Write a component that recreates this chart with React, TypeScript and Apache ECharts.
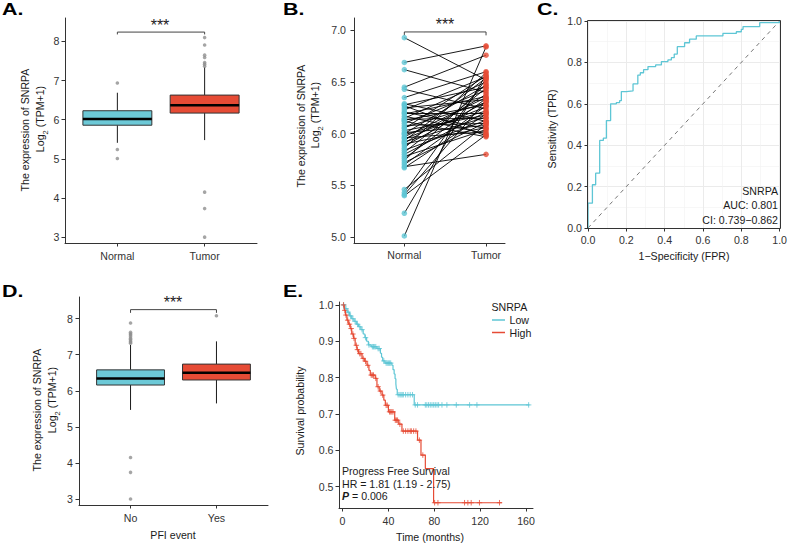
import React, { useEffect, useRef } from 'react';
import * as echarts from 'echarts';

// ---------- data ----------
const groupsAB = ['Normal', 'Tumor'];
const groupsD = ['No', 'Yes'];

// box statistics: [group position, lower whisker, Q1, median, Q3, upper whisker]
const boxA = [
  [1, 5.41, 5.86, 6.02, 6.23, 6.69],
  [2, 5.48, 6.17, 6.37, 6.63, 7.35],
];
const outliersNormalA = [6.94, 5.24, 5.01];
const outliersTumorA = [7.37, 7.42, 7.46, 7.59, 7.65, 7.91, 8.1, 4.15, 3.73, 3.0];

const boxD = [
  [1, 5.47, 6.16, 6.34, 6.58, 7.27],
  [2, 5.65, 6.3, 6.5, 6.74, 7.37],
];
const outliersNoD = [7.88, 7.62, 7.58, 7.55, 7.5, 7.45, 7.42, 7.38, 7.35, 7.32, 4.15, 3.74, 3.0];
const outliersYesD = [8.08];

// paired samples (normal vs tumor of the same patient)
const pairedNormal = [
  6.93, 6.69, 6.62, 6.45, 6.43, 6.35, 6.29, 6.28, 6.27, 6.25, 6.23, 6.21, 6.2, 6.19, 6.17, 6.15, 6.14, 6.13,
  6.12, 6.1, 6.08, 6.06, 6.05, 6.03, 6.01, 6.0, 5.99, 5.97, 5.96, 5.95, 5.93, 5.92, 5.91, 5.9, 5.88, 5.86,
  5.84, 5.82, 5.8, 5.78, 5.76, 5.74, 5.72, 5.7, 5.68, 5.67, 5.46, 5.43, 5.41, 5.4, 5.23, 5.01,
];
const pairedTumor = [
  6.52, 6.85, 6.4, 6.76, 6.24, 6.6, 6.12, 6.45, 5.98, 6.33, 6.55, 6.05, 6.2, 6.36, 6.0, 6.5, 6.15, 6.28,
  5.97, 6.42, 6.1, 6.3, 6.56, 6.18, 6.08, 6.47, 6.22, 6.35, 6.02, 6.26, 6.54, 6.16, 6.38, 6.06, 6.31, 6.59,
  6.13, 6.44, 6.21, 6.04, 6.34, 6.48, 6.11, 6.27, 5.8, 6.19, 6.09, 6.53, 6.32, 5.99, 6.57, 6.84,
];

// ROC curve vertices
const rocFpr = [0, 0, 0.023, 0.04, 0.061, 0.08, 0.096, 0.118, 0.148, 0.165, 0.174, 0.2, 0.235, 0.26, 0.273, 0.29,
  0.313, 0.353, 0.383, 0.417, 0.435, 0.45, 0.466, 0.504, 0.53, 0.565, 0.704, 0.774, 0.8, 0.809, 0.896, 1.0];
const rocTpr = [0, 0.12, 0.209, 0.265, 0.423, 0.434, 0.519, 0.6, 0.606, 0.615, 0.659, 0.662, 0.696, 0.739, 0.75, 0.765,
  0.78, 0.788, 0.804, 0.812, 0.823, 0.84, 0.876, 0.895, 0.912, 0.928, 0.94, 0.948, 0.96, 0.973, 0.992, 1.0];

// Kaplan-Meier steps
const lowTime = [0, 2, 4, 6, 8, 10, 12, 14, 16, 18, 19.5, 21, 22.5, 25, 30, 33, 34, 35, 37, 43, 44, 45, 45.8, 46.5, 47, 47.7, 62.5, 163];
const lowSurv = [1, 0.99, 0.98, 0.97, 0.962, 0.955, 0.947, 0.94, 0.932, 0.92, 0.91, 0.9, 0.89, 0.885, 0.88, 0.867, 0.856, 0.846, 0.84, 0.834, 0.822, 0.81, 0.797, 0.783, 0.768, 0.753, 0.725, 0.725];
const highTime = [0, 1.5, 2.5, 3.8, 5, 6.7, 8, 9.6, 11, 12.5, 14, 17, 19, 21.3, 23, 24.2, 28.5, 30, 32, 34.4, 36, 37.3, 40, 45.5, 49, 51.8, 65.4, 68.4, 72.2, 79.4, 139];
const highSurv = [1, 0.985, 0.972, 0.958, 0.947, 0.935, 0.92, 0.908, 0.889, 0.877, 0.866, 0.853, 0.845, 0.834, 0.82, 0.807, 0.798, 0.775, 0.763, 0.752, 0.738, 0.724, 0.706, 0.683, 0.672, 0.653, 0.628, 0.587, 0.55, 0.456, 0.456];
const lowCensor = [1, 3, 5, 7, 9, 11, 13, 15, 17, 20, 23, 26, 27, 28, 29, 31, 32, 36, 38, 39, 40, 41, 42, 48.5, 50, 51, 52, 53,
  55, 57, 59, 61, 63.4, 65.4, 72.2, 73.5, 75, 76.5, 78, 79.5, 80.9, 82.4, 83.8, 86.7, 91, 99.2, 110.8, 117.2, 162.3];
const highCensor = [0.8, 2, 3, 4.5, 6, 7.5, 9, 10, 12, 13, 15, 16, 18, 20, 22, 25, 26, 27, 29, 31, 33, 35, 38, 39, 41, 42, 43,
  44, 46, 47, 48, 50, 53, 55, 57, 59, 60, 62, 64, 67, 70, 80.3, 83.2, 106.4, 109.3, 112.2, 119.4, 136.9];

const yTicksA = [3, 4, 5, 6, 7, 8];
const yTicksB = [5, 5.5, 6, 6.5, 7];
const yTicksE = [0.5, 0.6, 0.7, 0.8, 0.9, 1.0];
const xTicksE = [0, 40, 80, 120, 160];

// ---------- styling ----------
const FONT = '"Liberation Sans", Arial, Helvetica, sans-serif';
const INK = '#333333';
const CYAN = '#6CC9D7';
const CYAN_LINE = '#5EC6D5';
const RED = '#E64B35';
const FS = 10.6;

const levelAt = (times: number[], surv: number[], t: number) => {
  let s = surv[0];
  for (let i = 0; i < times.length; i++) if (times[i] <= t) s = surv[i];
  return s;
};

const labelStyle = { color: INK, fontSize: FS, fontFamily: FONT };

function valueAxis(gridIndex: number, min: number, max: number, ticks: number[], fmt: (v: number) => string, margin: number) {
  return {
    type: 'value', gridIndex, min, max,
    axisLine: { show: true, onZero: false, lineStyle: { color: INK, width: 1 } },
    axisTick: { show: true, length: 3.5, customValues: ticks, lineStyle: { color: INK, width: 1 } },
    axisLabel: { ...labelStyle, customValues: ticks, margin, formatter: fmt },
    splitLine: { show: false },
  };
}

function rocAxis(gridIndex: number, margin: number) {
  return {
    type: 'value', gridIndex, min: 0, max: 1, interval: 0.2,
    axisLine: { show: false },
    axisTick: { show: true, length: 3.5, lineStyle: { color: INK, width: 1 } },
    axisLabel: { ...labelStyle, margin, formatter: (v: number) => v.toFixed(1) },
    splitLine: { show: true, lineStyle: { color: '#EBEBEB', width: 1 } },
    minorTick: { show: false, splitNumber: 2 },
    minorSplitLine: { show: true, lineStyle: { color: '#F2F2F2', width: 0.6 } },
  };
}

const boxColors = [CYAN, RED];
function boxSeries(idx: number, stats: number[][]) {
  return {
    type: 'custom', xAxisIndex: idx, yAxisIndex: idx, data: stats, silent: true, z: 2,
    encode: { x: 0, y: [1, 2, 3, 4, 5] },
    renderItem: (params: any, api: any) => {
      const x = api.value(0);
      const w = api.size([0.79, 0])[0];
      const lo = api.coord([x, api.value(1)]);
      const q1 = api.coord([x, api.value(2)]);
      const md = api.coord([x, api.value(3)]);
      const q3 = api.coord([x, api.value(4)]);
      const hi = api.coord([x, api.value(5)]);
      const wStyle = { stroke: '#1a1a1a', lineWidth: 1 };
      return {
        type: 'group',
        children: [
          { type: 'line', shape: { x1: lo[0], y1: lo[1], x2: q1[0], y2: q1[1] }, style: wStyle },
          { type: 'line', shape: { x1: q3[0], y1: q3[1], x2: hi[0], y2: hi[1] }, style: wStyle },
          { type: 'rect', shape: { x: q3[0] - w / 2, y: q3[1], width: w, height: q1[1] - q3[1] },
            style: { fill: boxColors[params.dataIndex], stroke: '#333', lineWidth: 1 } },
          { type: 'line', shape: { x1: md[0] - w / 2, y1: md[1], x2: md[0] + w / 2, y2: md[1] },
            style: { stroke: '#000', lineWidth: 2.5 } },
        ],
      };
    },
  };
}
function outlierSeries(idx: number, x: number, values: number[]) {
  return {
    type: 'scatter', xAxisIndex: idx, yAxisIndex: idx, silent: true, z: 3,
    data: values.map((v) => [x, v]), symbolSize: 3.6, itemStyle: { color: '#8F8F8F' },
  };
}
function bracketSeries(idx: number, yTop: number, yTip: number) {
  return {
    type: 'line', xAxisIndex: idx, yAxisIndex: idx, silent: true, symbol: 'none',
    data: [[1, yTip], [1, yTop], [2, yTop], [2, yTip]],
    lineStyle: { color: '#444', width: 1 },
  };
}

const PLUS = 'path://M0 4L8 4M4 0L4 8';

function kmSeries(times: number[], surv: number[], censor: number[], color: string) {
  return [
    {
      type: 'line', xAxisIndex: 4, yAxisIndex: 4, silent: true, step: 'end', symbol: 'none',
      data: times.map((t, i) => [t, surv[i]]), lineStyle: { color, width: 1.2 },
    },
    {
      type: 'scatter', xAxisIndex: 4, yAxisIndex: 4, silent: true, symbol: PLUS, symbolSize: 5.5,
      data: censor.map((t) => [t, levelAt(times, surv, t)]),
      itemStyle: { color: 'transparent', borderColor: color, borderWidth: 1 },
    },
  ];
}

// ---------- text helpers ----------
const txt = (x: number, y: number, text: string, extra: any = {}, el: any = {}) => ({
  type: 'text', x, y, silent: true, z: 50, ...el,
  style: { text, fill: '#1a1a1a', fontSize: FS, fontFamily: FONT, align: 'center', verticalAlign: 'middle', ...extra },
});
const vtxt = (x: number, y: number, text: string) => txt(x, y, text, {}, { rotation: Math.PI / 2 });
const logTitle = (x: number, y: number) => ({
  type: 'text', x, y, rotation: Math.PI / 2, silent: true, z: 50,
  style: {
    text: '{a|Log}{s|2}{a| (TPM+1)}', align: 'center', verticalAlign: 'middle', fill: '#1a1a1a',
    rich: {
      a: { fontSize: FS, fontFamily: FONT, lineHeight: 13, verticalAlign: 'top', fill: '#1a1a1a' },
      s: { fontSize: 7.5, fontFamily: FONT, lineHeight: 8, verticalAlign: 'top', padding: [6.5, 0, 0, 0], fill: '#1a1a1a' },
    },
  },
});
const letter = (x: number, y: number, text: string) => ({
  type: 'text', x, y, scaleX: 1.3, silent: true, z: 50,
  style: { text, fill: '#000', fontSize: 16.5, fontWeight: 'bold', fontFamily: FONT, align: 'left', verticalAlign: 'middle' },
});
const stars = (x: number, y: number) => txt(x, y, '***', { fontSize: 16, fill: '#222' });

const option: any = {
  animation: false,
  backgroundColor: '#ffffff',
  grid: [
    { left: 65, top: 18, width: 192, height: 225 },   // A
    { left: 354, top: 18, width: 151, height: 225 },  // B
    { left: 588, top: 21, width: 192, height: 207 },  // C
    { left: 79, top: 297, width: 189, height: 208 },  // D
    { left: 339, top: 302, width: 194, height: 206 }, // E
  ],
  xAxis: [
    valueAxis(0, 0.4, 2.6, [1, 2], (v) => groupsAB[Math.round(v) - 1], 7),
    valueAxis(1, 0.384, 2.232, [1, 2], (v) => groupsAB[Math.round(v) - 1], 6.5),
    rocAxis(2, 6),
    valueAxis(3, 0.4, 2.6, [1, 2], (v) => groupsD[Math.round(v) - 1], 7.5),
    valueAxis(4, -3.1, 166.1, xTicksE, (v) => String(v), 7.5),
  ],
  yAxis: [
    valueAxis(0, 2.85, 8.6, yTicksA, (v) => String(v), 5.5),
    valueAxis(1, 4.942, 7.12, yTicksB, (v) => v.toFixed(1), 8),
    rocAxis(2, 6),
    valueAxis(3, 2.834, 8.6, yTicksA, (v) => String(v), 6),
    valueAxis(4, 0.4415, 1.008, yTicksE, (v) => v.toFixed(1), 5.5),
  ],
  series: [
    // A
    boxSeries(0, boxA),
    outlierSeries(0, 1, outliersNormalA),
    outlierSeries(0, 2, outliersTumorA),
    bracketSeries(0, 8.24, 8.18),
    // B
    {
      type: 'lines', coordinateSystem: 'cartesian2d', xAxisIndex: 1, yAxisIndex: 1, silent: true, z: 2,
      data: pairedNormal.map((n, i) => ({ coords: [[1, n], [2, pairedTumor[i]]] })),
      lineStyle: { color: '#000', width: 0.9, opacity: 1 },
    },
    {
      type: 'scatter', xAxisIndex: 1, yAxisIndex: 1, silent: true, z: 3, symbolSize: 5.5,
      data: pairedNormal.map((v) => [1, v]), itemStyle: { color: CYAN_LINE },
    },
    {
      type: 'scatter', xAxisIndex: 1, yAxisIndex: 1, silent: true, z: 3, symbolSize: 5.5,
      data: pairedTumor.map((v) => [2, v]), itemStyle: { color: RED },
    },
    bracketSeries(1, 6.985, 6.952),
    // C
    {
      type: 'line', xAxisIndex: 2, yAxisIndex: 2, silent: true, symbol: 'none',
      data: [[0, 0], [1, 1]], lineStyle: { color: '#777', width: 1, type: [4, 4] },
    },
    {
      type: 'line', xAxisIndex: 2, yAxisIndex: 2, silent: true, symbol: 'none', step: 'end',
      data: rocFpr.map((f, i) => [f, rocTpr[i]]), lineStyle: { color: CYAN_LINE, width: 1.3 },
    },
    // D
    boxSeries(3, boxD),
    outlierSeries(3, 1, outliersNoD),
    outlierSeries(3, 2, outliersYesD),
    bracketSeries(3, 8.25, 8.16),
    // E
    ...kmSeries(lowTime, lowSurv, lowCensor, CYAN_LINE),
    ...kmSeries(highTime, highSurv, highCensor, RED),
  ],
  graphic: [
    // panel letters
    letter(2, 9.5, 'A.'),
    letter(283, 9.5, 'B.'),
    letter(537, 9.5, 'C.'),
    letter(2, 291, 'D.'),
    letter(283, 291, 'E.'),
    // significance stars
    stars(160, 25),
    stars(445, 24.5),
    stars(173, 302.5),
    // axis titles
    vtxt(25, 130, 'The expression of SNRPA'),
    logTitle(41, 119),
    vtxt(300.5, 126, 'The expression of SNRPA'),
    logTitle(316, 115),
    vtxt(37, 410, 'The expression of SNRPA'),
    logTitle(53, 400),
    vtxt(552, 129, 'Sensitivity (TPR)'),
    txt(684, 256, '1\u2212Specificity (FPR)'),
    txt(173, 534.5, 'PFI event'),
    vtxt(300, 411, 'Survival probability'),
    txt(430, 537, 'Time (months)'),
    // ROC panel border
    {
      type: 'rect', silent: true, z: 40,
      shape: { x: 587.5, y: 20.5, width: 193, height: 208 },
      style: { fill: 'none', stroke: INK, lineWidth: 1 },
    },
    // ROC annotation
    txt(778, 191, 'SNRPA', { align: 'right' }),
    txt(778, 204.5, 'AUC: 0.801', { align: 'right' }),
    txt(778, 219.5, 'CI: 0.739\u22120.862', { align: 'right' }),
    // survival legend
    txt(491.5, 307, 'SNRPA', { align: 'left' }),
    { type: 'line', silent: true, z: 50, shape: { x1: 492, y1: 320, x2: 505, y2: 320 }, style: { stroke: CYAN_LINE, lineWidth: 1.5 } },
    txt(509.5, 320, 'Low', { align: 'left' }),
    { type: 'line', silent: true, z: 50, shape: { x1: 492, y1: 332.5, x2: 505, y2: 332.5 }, style: { stroke: RED, lineWidth: 1.5 } },
    txt(509.5, 332.5, 'High', { align: 'left' }),
    // survival annotation
    txt(342, 471, 'Progress Free Survival', { align: 'left' }),
    txt(342, 483.5, 'HR = 1.81 (1.19 - 2.75)', { align: 'left' }),
    {
      type: 'text', x: 342, y: 496, silent: true, z: 50,
      style: {
        text: '{b|P} = 0.006', align: 'left', verticalAlign: 'middle', fill: '#1a1a1a', fontSize: FS, fontFamily: FONT,
        rich: { b: { fontSize: FS, fontFamily: FONT, fontWeight: 'bold', fontStyle: 'italic', fill: '#1a1a1a' } },
      },
    },
  ],
};

export default function App() {
  const ref = useRef<HTMLDivElement>(null);
  useEffect(() => {
    const chart = echarts.init(ref.current as HTMLDivElement, null, { renderer: 'svg' });
    chart.setOption(option);
    return () => chart.dispose();
  }, []);
  return (
    <div
      ref={ref}
      style={{ position: 'fixed', left: 0, top: 0, width: 790, height: 544, background: '#ffffff' }}
    />
  );
}
